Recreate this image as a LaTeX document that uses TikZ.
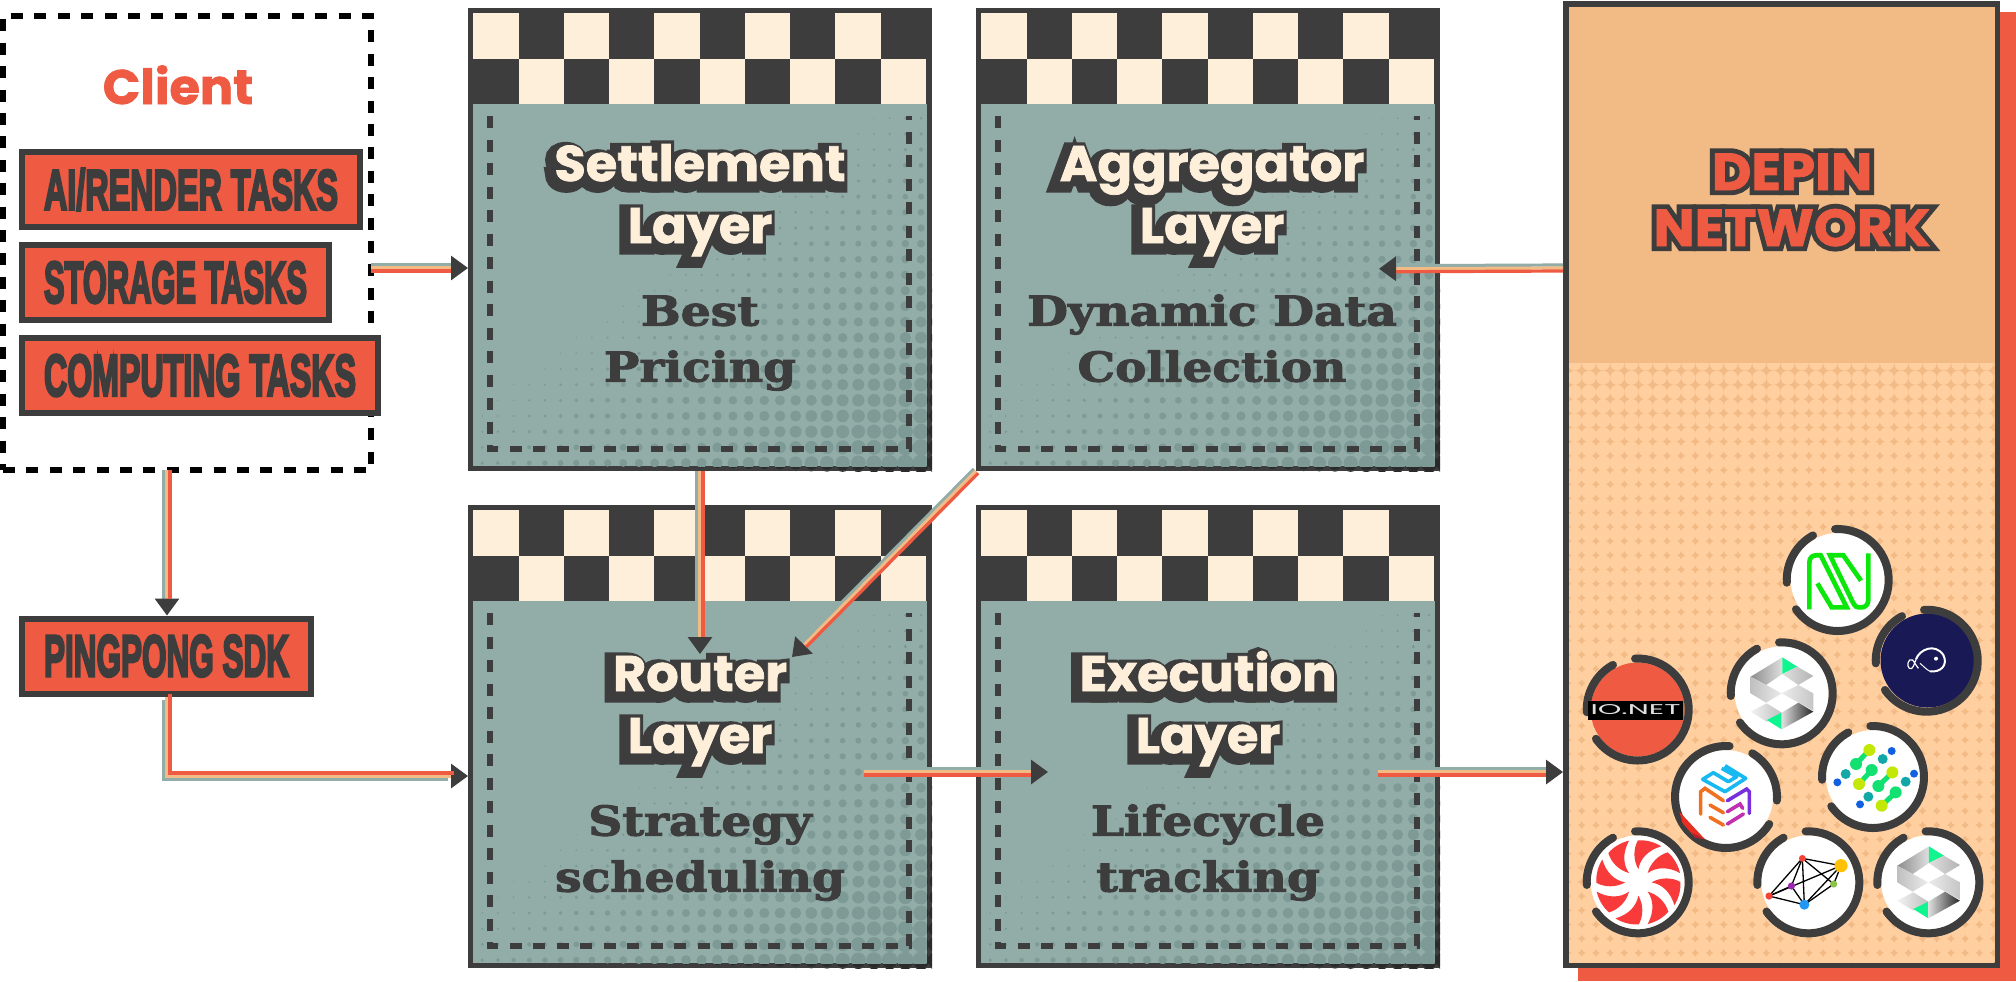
\documentclass[tikz,border=0pt]{standalone}
\usepackage{fontspec}
\usetikzlibrary{arrows.meta,calc}
\newfontfamily\antonf{Liberation Sans}[BoldFeatures={FakeBold=5}]
\newfontfamily\headunder{Poppins}[BoldFeatures={FakeBold=30,FakeStretch=1.02}]
\newfontfamily\headtop{Poppins}[BoldFeatures={FakeBold=1.5,FakeStretch=1.02}]
\newfontfamily\depinunder{Poppins}[BoldFeatures={FakeBold=20,FakeStretch=1.05}]
\newfontfamily\depintop{Poppins}[BoldFeatures={FakeBold=1.5,FakeStretch=1.05}]
\newfontfamily\descf{DejaVu Serif}[BoldFeatures={FakeBold=2.5,FakeStretch=1.15}]
\definecolor{dark}{HTML}{3D3D3D}
\definecolor{darkdot}{HTML}{2A2A2A}
\definecolor{cream}{HTML}{FEEFDB}
\definecolor{cteal}{HTML}{92ACA7}
\definecolor{cdot}{HTML}{7D9A96}
\definecolor{cred}{HTML}{EE5B42}
\definecolor{cpeach}{HTML}{F2BA85}
\definecolor{clight}{HTML}{FFCFA0}
\definecolor{ngreen}{HTML}{0BE70B}
\definecolor{navy}{HTML}{191955}
\definecolor{sgreen}{HTML}{10F590}
\definecolor{dy}{HTML}{C4E806}
\definecolor{dg}{HTML}{12E070}
\definecolor{dt}{HTML}{12A8A8}
\definecolor{db}{HTML}{1060E0}
\definecolor{mred}{HTML}{E82E20}
\definecolor{mdred}{HTML}{B02030}
\definecolor{mcyan}{HTML}{18B8F0}
\definecolor{morange}{HTML}{F07020}
\definecolor{mpurple}{HTML}{7830DC}
\definecolor{mmag}{HTML}{C030B0}
\definecolor{swred}{HTML}{F83A3A}
\definecolor{gred}{HTML}{F44336}
\definecolor{ggold}{HTML}{FFC107}
\definecolor{ggreen}{HTML}{8BC34A}
\definecolor{gpurple}{HTML}{9C27B0}
\definecolor{gblue}{HTML}{2196F3}
\tikzset{
  taskbox/.style={draw=dark,fill=cred,line width=3pt,inner xsep=11pt,inner ysep=0pt,minimum height=37.5pt,outer sep=1.5pt,anchor=west,text=dark},
  layerbox/.style={fill=dark,minimum width=232pt,minimum height=231.5pt,inner sep=0pt,outer sep=0pt},
  stripeline/.style={line width=1.6pt,line join=miter},
  tipped/.style={-{Triangle[length=8.5pt,width=12pt,fill=dark,color=dark]}},
  ringline/.style={draw=dark,line width=4pt,line cap=round},
  hunder/.style={text=dark,inner sep=0pt,align=center,font=\headunder\bfseries\fontsize{25}{31}\selectfont},
  htop/.style={text=cream,inner sep=0pt,align=center,font=\headtop\bfseries\fontsize{25}{31}\selectfont},
  desctext/.style={text=dark,inner sep=0pt,align=center,font=\descf\bfseries\fontsize{20.5}{28}\selectfont},
  dashline/.style={draw=dark,line width=3pt,dash pattern=on 6pt off 5.75pt},
}
\newcommand\halfdot[3]{%
  \pgfmathsetmacro\dx{453-15.67*#1}%
  \pgfmathsetmacro\dy{455-15.67*#2}%
  \pgfmathsetmacro\tval{(\dx-13.7)*0.601+(\dy-455)*0.7996+45}%
  \pgfmathparse{\tval>0?1:0}%
  \ifnum\pgfmathresult=1
    \pgfmathsetmacro\rr{0.3+3.9*\tval/309}%
    \fill[#3] (\dx,\dy) circle[radius=\rr pt];%
  \fi}
\newcommand\layerpanel[3]{%
  \begin{scope}[shift={(#2,#3)}]
    \node[layerbox] (#1) at (232,231.5) {};
    \begin{scope}
      \clip (0,100) rectangle (464,463);
      \foreach \j in {-1,...,22} {\halfdot{-1}{\j}{darkdot}\halfdot{0}{\j}{darkdot}}
      \foreach \i in {1,...,29} {\halfdot{\i}{-1}{darkdot}\halfdot{\i}{0}{darkdot}}
    \end{scope}
    \foreach \i in {0,2,4,6,8} {\fill[cream] (5.3+\i*45.27,5.3) rectangle ++(45.27,45.4);}
    \foreach \i in {1,3,5,7,9} {\fill[cream] (5.3+\i*45.27,50.7) rectangle ++(45.27,45.4);}
    \fill[cteal] (5.3,96) rectangle (458.5,458);
    \begin{scope}
      \clip (5.3,96) rectangle (458.5,458);
      \foreach \i in {0,...,29} {\foreach \j in {0,...,22} {\halfdot{\i}{\j}{cdot}}}
    \end{scope}
    \draw[dashline] (22,108) -- (22,441) -- (441,441) -- (441,108);
  \end{scope}}
\newcommand\connector[3]{%
  \draw[stripeline,cteal,shorten >=8.5pt,transform canvas={shift={(-#1,-#2)}}] #3;
  \draw[stripeline,cpeach,tipped] #3;
  \draw[stripeline,cred,shorten >=8.5pt,transform canvas={shift={(#1,#2)}}] #3;}
\newcommand\layertext[5]{%
  \node[hunder,anchor=base] (#1u) at (#2-4,#3+66) {#4};
  \node[htop,anchor=base] (#1t) at (#2,#3+62) {#4};
  \node[desctext,anchor=base] (#1d) at (#2,#3+200.5) {#5};}
\newcommand\logoring[2]{%
  \draw[ringline] (#1,#2) ++(93:25.5pt) arc[start angle=93,end angle=-145,radius=25.5pt];
  \draw[ringline] (#1,#2) ++(119:25.5pt) arc[start angle=119,end angle=183,radius=25.5pt];}
\newcommand\slogo[2]{%
  \begin{scope}[shift={(1580+#1,640+#2)},x=0.16667pt,y=-0.16667pt]
    \shade[left color=gray!90,right color=gray!25] (512,110) -- (607,52) -- (607,102) -- (558,135) -- cycle;
    \fill[sgreen] (607,52) -- (652,80) -- (607,102) -- cycle;
    \shade[left color=gray!25,right color=gray!60] (607,102) -- (652,80) -- (700,108) -- (655,135) -- cycle;
    \shade[left color=gray!50,right color=gray!15] (512,110) -- (605,160) -- (558,188) -- (512,160) -- cycle;
    \shade[left color=gray!15,right color=gray!45] (605,160) -- (655,135) -- (700,160) -- (700,212) -- cycle;
    \shade[left color=gray!10,right color=gray!50] (512,215) -- (560,190) -- (605,218) -- (560,245) -- cycle;
    \fill[sgreen] (605,218) -- (605,268) -- (560,240) -- cycle;
    \shade[left color=gray!25,right color=black!70!gray] (605,218) -- (655,188) -- (700,215) -- (605,268) -- cycle;
  \end{scope}}
\begin{document}
\begin{tikzpicture}[x=0.5pt,y=-0.5pt]
\useasboundingbox (0,0) rectangle (2016,981);
\fill[white] (0,0) rectangle (2016,981);
% guide coordinates
\coordinate (y268) at (0,268);
\coordinate (y776) at (0,776);
\coordinate (y772) at (0,772);
\coordinate (x167) at (167,0);
\coordinate (x700) at (700,0);
\coordinate (aggtip) at (1379,268.8);
\coordinate (rttip) at (700,654);
\coordinate (rtdiag) at (792,657);
\coordinate (rtstart) at (864,772);
\coordinate (extip) at (1048,772);
\coordinate (exstart) at (1378,772);

% client
\node[draw=black,line width=3pt,dash pattern=on 6pt off 5.7pt,minimum width=184pt,minimum height=227pt,inner sep=0pt,outer sep=0pt] (client) at (187,243) {};
\node[text=cred,inner sep=0pt,anchor=base,font=\headtop\bfseries\fontsize{24.2}{30}\selectfont] (clienttitle) at (178,104) {Client};

% layers
\layerpanel{settle}{468}{8}
\layerpanel{aggreg}{976}{8}
\layerpanel{router}{468}{505}
\layerpanel{exec}{976}{505}

% depin panel
\fill[cred] (1578,12) rectangle (2016,981);
\node[fill=dark,minimum width=218.5pt,minimum height=483.5pt,inner sep=0pt,outer sep=0pt] (depin) at (1781.5,484.5) {};
\fill[cpeach] (1569,7) rectangle (1994.5,962);
\begin{scope}
  \clip (1569,363) rectangle (1994.5,962);
  \foreach \j in {0,...,42} {\foreach \i in {0,...,30} {%
    \pgfmathsetmacro\cy{363.6+14.2*\j}%
    \pgfmathsetmacro\cx{1574.6+14.2*\i}%
    \pgfmathsetmacro\cr{min(7.75,6.9+(\cy-363)*0.008)/2}%
    \fill[clight] (\cx,\cy) circle[radius=\cr pt];}}
\end{scope}

% connectors
\connector{0}{3}{(client.east |- y268) -- (settle.west |- y268)}
\node[taskbox] (aitask) at (19,189.5) {\resizebox{147pt}{20.5pt}{\antonf\bfseries AI/RENDER TASKS}};
\node[taskbox] (sttask) at (19,282.5) {\resizebox{131.5pt}{20.5pt}{\antonf\bfseries STORAGE TASKS}};
\node[taskbox] (cotask) at (19,375.5) {\resizebox{156pt}{20.5pt}{\antonf\bfseries COMPUTING TASKS}};
\node[taskbox] (sdk) at (19,656) {\resizebox{122.5pt}{20.5pt}{\antonf\bfseries PINGPONG SDK}};
\connector{3}{0}{(client.south -| x167) -- (sdk.north -| x167)}
\connector{3}{-3}{(sdk.south -| x167) |- (router.west |- y776)}
\connector{3}{0}{(settle.south -| x700) -- (rttip)}
\connector{2.12}{2.12}{(aggreg.south west) -- (rtdiag)}
\connector{0}{3}{(depin.west |- y268) -- (aggtip)}
\connector{0}{3}{(rtstart) -- (extip)}
\connector{0}{3}{(exstart) -- (depin.west |- y772)}

% texts
\layertext{settle}{700}{181}{Settlement\\Layer}{Best\\Pricing}
\layertext{aggreg}{1212}{181}{Aggregator\\Layer}{Dynamic Data\\Collection}
\layertext{router}{700}{691}{Router\\Layer}{Strategy\\scheduling}
\layertext{exec}{1208}{691}{Execution\\Layer}{Lifecycle\\tracking}

\begin{scope}[miter limit=2.5]
\node[inner sep=0pt,align=center,text=dark,anchor=base,font=\depinunder\bfseries\fontsize{26}{28}\selectfont] (depinu) at (1792,246) {DEPIN\\NETWORK};
\node[inner sep=0pt,align=center,text=cred,anchor=base,font=\depintop\bfseries\fontsize{26}{28}\selectfont] (depint) at (1792,246) {DEPIN\\NETWORK};
\end{scope}

% logos
% N
\fill[white] (1837.7,580) circle[radius=23.5pt];
\begin{scope}[shift={(1780,520)},x=0.16667pt,y=-0.16667pt]
  \draw[line width=2.35pt,draw=ngreen] (88,268) -- (88,128) .. controls (88,112) and (98,106) .. (108,106) -- (122,106) -- (200,262) -- (155,262) -- (112,190);
  \draw[line width=2.35pt,draw=ngreen] (265,100) -- (265,238) .. controls (265,255) and (255,262) .. (245,262) -- (235,262) .. controls (225,262) and (220,250) .. (215,240) -- (150,106) -- (190,106) -- (243,182);
\end{scope}
\logoring{1837.7}{580}
% fish
\fill[navy] (1927.5,660.5) circle[radius=23.5pt];
\logoring{1926.7}{660.7}
\begin{scope}[shift={(1780,520)},x=0.16667pt,y=-0.16667pt]
  \draw[white,line width=1pt] (408,418) .. controls (418,388) and (465,368) .. (490,405) .. controls (505,435) and (482,458) .. (450,454);
  \draw[white,line width=0.5pt] (450,454) .. controls (438,448) and (430,438) .. (420,430);
  \draw[white,line width=0.6pt] (408,418) .. controls (402,435) and (398,450) .. (388,445) .. controls (378,438) and (385,412) .. (398,420) .. controls (405,428) and (408,438) .. (415,445);
  \fill[white] (468,416) circle[radius=1pt];
\end{scope}
% S1
\fill[white] (1781.7,693.3) circle[radius=23.5pt];
\slogo{0}{0}
\logoring{1781.7}{693.3}
% io.net
\fill[cred] (1637.7,709.5) circle[radius=23.5pt];
\logoring{1637.7}{709.5}
\fill[black] (1588,701) rectangle (1683,719.5);
\node[inner sep=0pt,text=black!12] (ionet) at (1635.5,710) {\resizebox{45pt}{5pt}{\headtop IO.NET}};
% dots
\fill[white] (1873,777) circle[radius=23.5pt];
\begin{scope}[shift={(1810,715)},x=0.16667pt,y=-0.16667pt]
  \foreach \ax/\ay/\bx/\by in {178/105/138/147,185/165/147/207,247/172/205/213,257/232/215/272} {
    \draw[dg,line width=2.5pt] (\ax,\ay) -- (\bx,\by);
  }
  \foreach \x/\y in {178/105,147/207,247/172,215/272} {\fill[dy] (\x,\y) circle[radius=3pt];}
  \foreach \x/\y in {138/147,185/165,205/213,257/232} {\fill[dg] (\x,\y) circle[radius=3pt];}
  \foreach \x/\y in {218/132,107/177,175/245,287/200} {\fill[dt] (\x,\y) circle[radius=2.5pt];}
  \foreach \x/\y in {245/108,82/202,150/268,312/176} {\fill[db] (\x,\y) circle[radius=2pt];}
\end{scope}
\logoring{1873}{777}
% mesh
\fill[white] (1726,797) circle[radius=23.5pt];
\begin{scope}[shift={(1580,640)},x=0.16667pt,y=-0.16667pt]
  \draw[line width=1.8pt,draw=mcyan,line join=round] (435,377) -- (497,415) -- (435,455) -- (368,418) -- (400,398) -- (445,425) -- (470,410) -- (425,385);
  \draw[line width=1.8pt,draw=morange,line cap=round] (362,522) -- (362,455) -- (375,445) -- (430,482);
  \draw[line width=1.8pt,draw=morange,line cap=round] (390,495) -- (430,518);
  \draw[line width=1.8pt,draw=morange,line cap=round] (390,532) -- (430,555);
  \draw[line width=1.8pt,draw=mpurple,line cap=round] (442,482) -- (500,447) -- (508,455) -- (508,520);
  \draw[line width=1.8pt,draw=mmag,line cap=round] (442,515) -- (480,492) -- (488,505);
  \draw[line width=1.8pt,draw=mmag,line cap=round] (442,552) -- (490,522);
\end{scope}
\draw[ringline] (1726,797) ++(59:25.5pt) arc[start angle=59,end angle=-4,radius=25.5pt];
\draw[ringline] (1726,797) ++(-32:25.5pt) arc[start angle=-32,end angle=-274,radius=25.5pt];
\begin{scope}[shift={(1580,640)},x=0.16667pt,y=-0.16667pt]
  \fill[mred] (298,515) -- (375,598) -- (345,592) -- (308,550) -- cycle;
  \fill[mdred] (335,578) -- (375,598) -- (345,592) -- cycle;
\end{scope}
% swirl
\fill[white] (1637.7,882.3) circle[radius=23.5pt];
\begin{scope}[shift={(1580,820)},x=0.16667pt,y=-0.16667pt]
  \foreach \a in {0,45,...,315} {
    \begin{scope}[shift={(175,187)},rotate=\a]
      \fill[swred] (28,-28) .. controls (36,-58) and (60,-82) .. (88,-90) .. controls (107,-74) and (120,-50) .. (125,-28) .. controls (90,-47) and (55,-47) .. (28,-28) -- cycle;
    \end{scope}}
\end{scope}
\logoring{1637.7}{882.3}
% graph
\fill[white] (1808.3,882.3) circle[radius=23.5pt];
\begin{scope}[shift={(1580,820)},x=0.16667pt,y=-0.16667pt]
  \foreach \ax/\ay/\bx/\by in {667/115/783/137,667/115/761/192,667/115/634/198,667/115/567/228,667/115/673/254,783/137/761/192,783/137/567/228,783/137/673/254,761/192/673/254,567/228/634/198,634/198/673/254,567/228/673/254} {
    \draw[black,line width=0.65pt] (\ax,\ay) -- (\bx,\by);}
  \fill[gred] (667,115) circle[radius=1.7pt];
  \fill[ggold] (783,137) circle[radius=3.3pt];
  \fill[ggreen] (761,192) circle[radius=1.8pt];
  \fill[gpurple] (634,198) circle[radius=1.8pt];
  \fill[gred] (567,228) circle[radius=1.8pt];
  \fill[gblue] (673,254) circle[radius=2.5pt];
\end{scope}
\logoring{1808.3}{882.3}
% S2
\fill[white] (1928.3,882.3) circle[radius=23.5pt];
\slogo{146.6}{189}
\logoring{1928.3}{882.3}
\end{tikzpicture}
\end{document}
